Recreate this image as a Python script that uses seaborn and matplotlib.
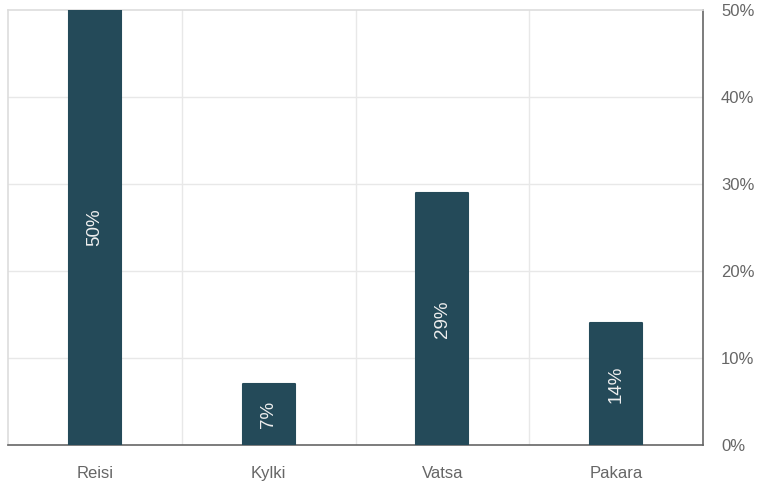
import matplotlib
matplotlib.use("Agg")
import matplotlib.pyplot as plt
import seaborn as sns
import pandas as pd
from matplotlib.ticker import FuncFormatter, FixedLocator

categories = ["Reisi", "Kylki", "Vatsa", "Pakara"]
values = [50, 7, 29, 14]
y_ticks = [0, 10, 20, 30, 40, 50]

sns.set_style("white")
plt.rcParams['font.family'] = ['Liberation Sans', 'DejaVu Sans']

df = pd.DataFrame({"cat": categories, "val": values})

fig = plt.figure(figsize=(7.57, 4.86), dpi=100)
ax = fig.add_axes([8/757, 41/486, 695/757, 435/486])

bar_color = "#244a59"
sns.barplot(data=df, x="cat", y="val", color=bar_color, width=0.30, ax=ax,
            saturation=1, edgecolor=bar_color, linewidth=1.5, zorder=3)
for p in ax.patches:
    p.set_joinstyle("round")

ax.set_xlim(-0.5, len(categories) - 0.5)
ax.set_ylim(0, 50)

# grid
for xb in [0.5, 1.5, 2.5]:
    ax.axvline(xb, color="#e8e8e8", lw=1, zorder=1)
for yt in [10, 20, 30, 40]:
    ax.axhline(yt, color="#e8e8e8", lw=1, zorder=1)

ax.yaxis.tick_right()
ax.yaxis.set_major_locator(FixedLocator(y_ticks))
ax.yaxis.set_major_formatter(FuncFormatter(lambda v, p: f"{int(v)}%"))
ax.tick_params(axis="y", length=0, pad=13, labelsize=12, labelcolor="#666666")
ax.tick_params(axis="x", length=0, pad=15, labelsize=12, labelcolor="#666666")
ax.set_xlabel("")
ax.set_ylabel("")

for s in ["top", "left"]:
    ax.spines[s].set_color("#dddddd")
    ax.spines[s].set_linewidth(1.2)
for s in ["right", "bottom"]:
    ax.spines[s].set_color("#666666")
    ax.spines[s].set_linewidth(1.2)
    ax.spines[s].set_visible(True)
ax.spines["top"].set_visible(True)
ax.spines["left"].set_visible(True)

for i, v in enumerate(values):
    ax.text(i, v / 2, f"{v}%", rotation=90, ha="center", va="center",
            color="#eeeeee", fontsize=13.5, zorder=4)

fig.savefig("out.png", dpi=100)
